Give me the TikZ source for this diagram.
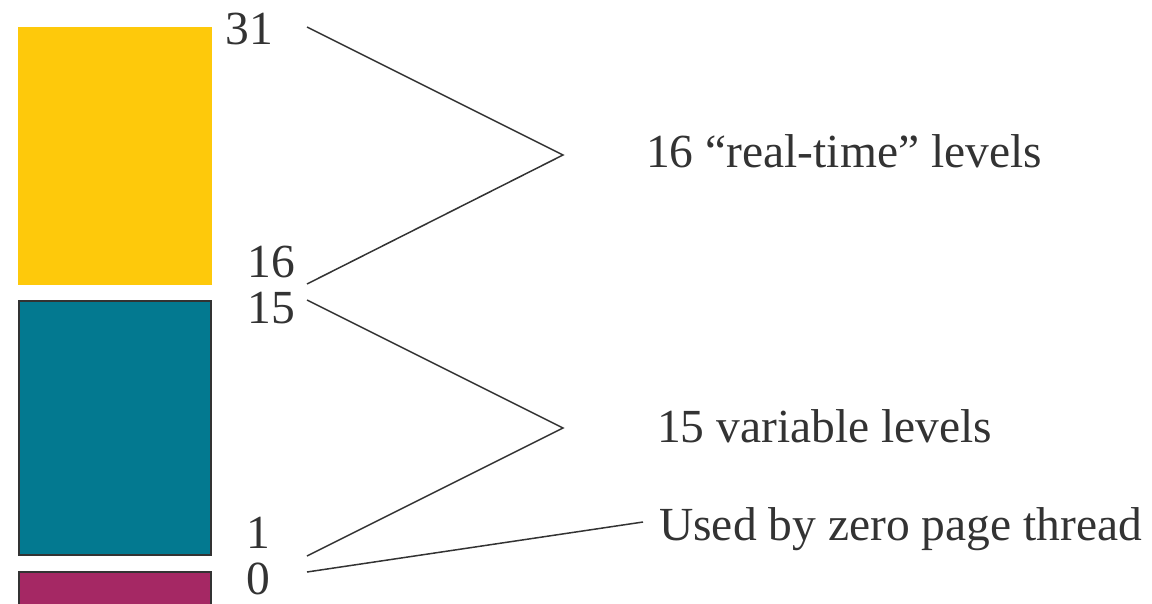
\documentclass[tikz,border=0pt]{standalone}
\usepackage{fontspec}
\setmainfont{Liberation Serif}
\definecolor{rtyellow}{HTML}{FEC90B}
\definecolor{varteal}{HTML}{037990}
\definecolor{zeromag}{HTML}{A52864}
\definecolor{inkgray}{HTML}{333333}
\tikzset{
  lvl/.style={font=\fontsize{47.5}{50}\selectfont, text=inkgray, inner sep=0pt, anchor=base},
  note/.style={font=\fontsize{47.5}{50}\selectfont, text=inkgray, inner sep=0pt, anchor=base west},
  brace/.style={draw=inkgray, line width=1.5pt}
}

\begin{document}
\begin{tikzpicture}[x=1pt,y=-1pt]
\useasboundingbox (0,0) rectangle (1152,603);
\fill[rtyellow] (18,27) rectangle (212,285);
\filldraw[fill=varteal, draw=inkgray, line width=2pt] (19,301) rectangle (211,555);
\filldraw[fill=zeromag, draw=inkgray, line width=2pt] (19,572) rectangle (211,612);
\node[lvl] (n31) at (249,44) {31};
\node[lvl] (n16) at (271,277) {16};
\node[lvl] (n15) at (271,323) {15};
\node[lvl] (n1) at (258,548) {1};
\node[lvl] (n0) at (258,594) {0};
\node[note] (realtime) at (646,167) {16 “real-time” levels};
\node[note] (variable) at (657,442) {15 variable levels};
\node[note] (zeropage) at (659,540) {Used by zero page thread};
\coordinate (a31) at (307,27);
\coordinate (a16) at (307,284);
\coordinate (a15) at (307,300);
\coordinate (a1) at (307,556);
\coordinate (a0) at (307,572);
\coordinate (rtapex) at (563,155);
\coordinate (varapex) at (563,428);
\coordinate (zeroend) at (643,522);
\draw[brace] (a31) -- (rtapex) -- (a16);
\draw[brace] (a15) -- (varapex) -- (a1);
\draw[brace] (a0) -- (zeroend);
\end{tikzpicture}
\end{document}
